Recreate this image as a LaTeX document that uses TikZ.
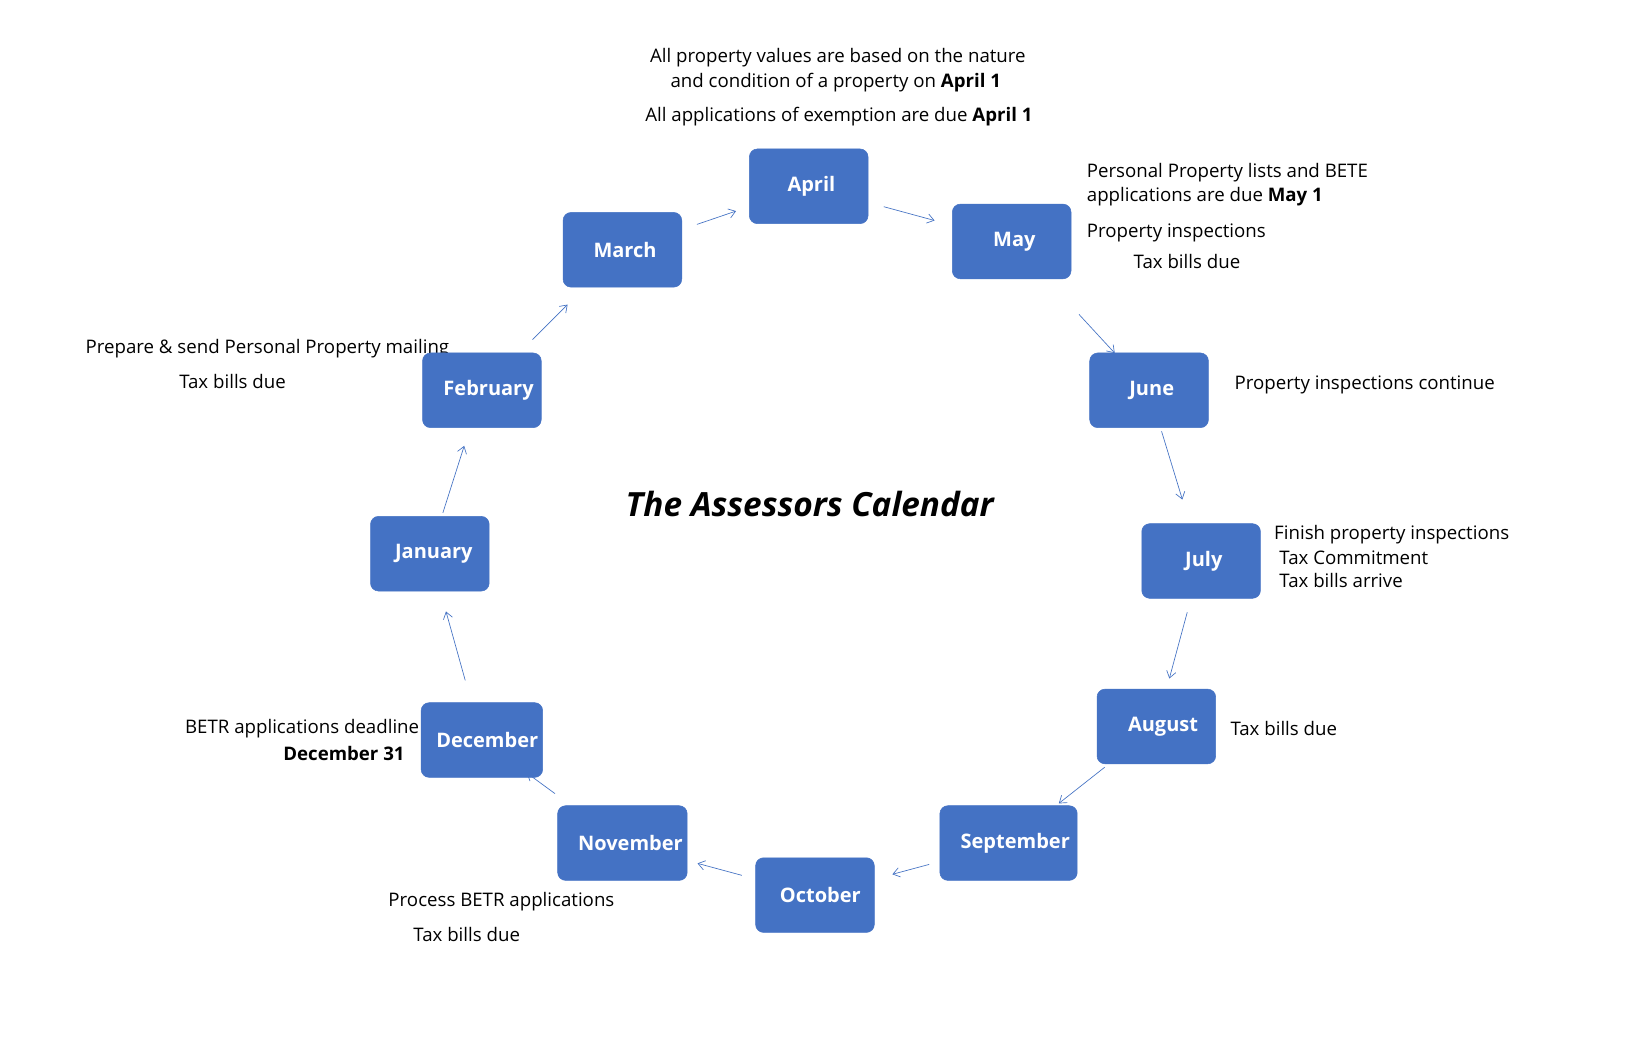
\documentclass[tikz,border=0pt]{standalone}
\usepackage{fontspec}
\setmainfont{Open Sans}
\usetikzlibrary{calc,arrows.meta}
\definecolor{mb}{HTML}{4472C4}
\tikzset{
 x=0.7806pt,y=-0.7806pt,
 month/.style={draw=mb,fill=mb,rounded corners=6pt,minimum width=89pt,minimum height=56pt,text=white,font=\fontsize{15}{18}\selectfont\bfseries},
 lbl/.style={inner sep=0pt,anchor=west,font=\fontsize{14}{17}\selectfont},
 arr/.style={draw=mb,line width=0.5pt,-{Straight Barb[length=5pt,width=7pt]}},
}
\newcommand{\arr}[4]{\draw[arr] ($(#1)!#3!(#2)$) -- ($(#1)!#4!(#2)$);}
\begin{document}
\begin{tikzpicture}
\useasboundingbox (0,0) rectangle (1568,1014.5);
\fill[white] (0,0) rectangle (1568,1014.5);
\coordinate (cApr) at (777,179);
\coordinate (cMay) at (972,232);
\coordinate (cJun) at (1104,375);
\coordinate (cJul) at (1154,539);
\coordinate (cAug) at (1111,698);
\coordinate (cSep) at (969,810);
\coordinate (cOct) at (783,860);
\coordinate (cNov) at (598,810);
\coordinate (cDec) at (463,711);
\coordinate (cJan) at (413,532);
\coordinate (cFeb) at (463,375);
\coordinate (cMar) at (598,240);
\arr{cMar}{cApr}{0.40}{0.61}
\arr{cApr}{cMay}{0.37}{0.62}
\arr{cMay}{cJun}{0.49}{0.75}
\arr{cJun}{cJul}{0.24}{0.64}
\arr{cJul}{cAug}{0.31}{0.71}
\arr{cAug}{cSep}{0.35}{0.66}
\arr{cSep}{cOct}{0.41}{0.60}
\arr{cOct}{cNov}{0.38}{0.61}
\arr{cNov}{cDec}{0.48}{0.68}
\arr{cDec}{cJan}{0.32}{0.69}
\arr{cJan}{cFeb}{0.25}{0.66}
\arr{cFeb}{cMar}{0.36}{0.61}
\node[lbl,anchor=center] (t1) at (805,55) {All property values are based on the nature};
\node[lbl,anchor=center] (t2) at (803,79) {and condition of a property on \textbf{April 1}};
\node[lbl,anchor=center] (t3) at (806,112) {All applications of exemption are due \textbf{April 1}};
\node[lbl] (m1) at (1044,166) {Personal Property lists and BETE};
\node[lbl] (m2) at (1044,189) {applications are due \textbf{May 1}};
\node[lbl] (m3) at (1044,224) {Property inspections};
\node[lbl] (m4) at (1089,251) {Tax bills due};
\node[lbl] (j1) at (1186,370) {Property inspections continue};
\node[lbl] (l1) at (1224,514) {Finish property inspections};
\node[lbl] (l2) at (1229,536) {Tax Commitment};
\node[lbl] (l3) at (1229,558) {Tax bills arrive};
\node[lbl] (a1) at (1182,700) {Tax bills due};
\node[lbl] (n1) at (373,866) {Process BETR applications};
\node[lbl] (n2) at (397,898) {Tax bills due};
\node[lbl,anchor=east] (d1) at (403,700) {BETR applications deadline};
\node[lbl,anchor=east] (d2) at (389,724) {\textbf{December 31}};
\node[lbl] (f1) at (82,335) {Prepare \& send Personal Property mailing};
\node[lbl] (f2) at (172,367) {Tax bills due};
\node[inner sep=0pt,font=\fontsize{25}{30}\selectfont\bfseries\itshape] (title) at (778,484) {The Assessors Calendar};
\node[month] (apr) at (cApr) {\hspace*{4pt}April};
\node[month] (may) at (cMay) {\hspace*{4pt}May};
\node[month] (jun) at (cJun) {\hspace*{4pt}June};
\node[month] (jul) at (cJul) {\hspace*{4pt}July};
\node[month] (aug) at (cAug) {\hspace*{10pt}August};
\node[month,minimum width=103pt] (sep) at (cSep) {\hspace*{10pt}September};
\node[month] (oct) at (cOct) {\hspace*{8pt}October};
\node[month] (nov) at (cNov) {\hspace*{12pt}November};
\node[month] (dec) at (cDec) {\hspace*{8pt}December};
\node[month] (jan) at (cJan) {\hspace*{6pt}January};
\node[month] (feb) at (cFeb) {\hspace*{10pt}February};
\node[month] (mar) at (cMar) {\hspace*{4pt}March};
\end{tikzpicture}
\end{document}
